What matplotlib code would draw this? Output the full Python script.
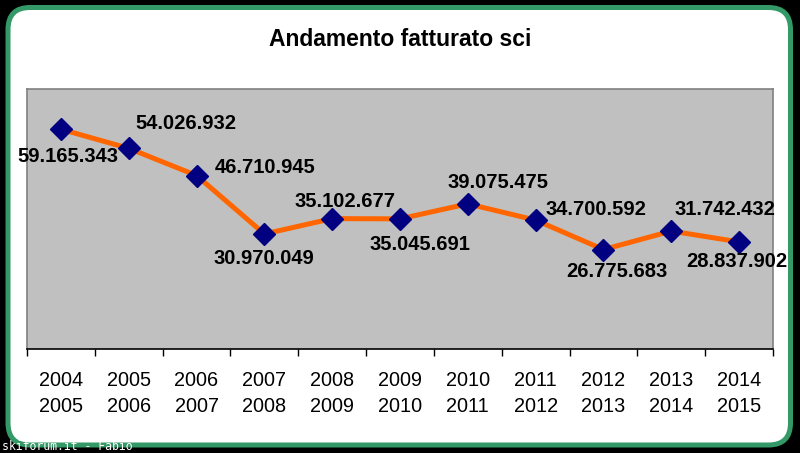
import matplotlib
matplotlib.use("Agg")
import matplotlib.pyplot as plt
from matplotlib.patches import FancyBboxPatch

# stagioni e fatturato (euro)
seasons = ["2004\n2005", "2005\n2006", "2006\n2007", "2007\n2008", "2008\n2009",
           "2009\n2010", "2010\n2011", "2011\n2012", "2012\n2013", "2013\n2014",
           "2014\n2015"]
revenue = [59165343, 54026932, 46710945, 30970049, 35102677, 35045691,
           39075475, 34700592, 26775683, 31742432, 28837902]
value_labels = ["59.165.343", "54.026.932", "46.710.945", "30.970.049", "35.102.677",
                "35.045.691", "39.075.475", "34.700.592", "26.775.683", "31.742.432",
                "28.837.902"]
# label offsets in pixels (dx, dy), dy positive = up
label_offsets = [(7, -27), (57, 25), (69, 8), (0, -25), (13, 17), (20, -26),
                 (30, 21), (60, 11), (13, -22), (54, 22), (-2, -20)]

plt.rcParams['font.family'] = ['Liberation Sans', 'DejaVu Sans']

fig = plt.figure(figsize=(8, 4.53), dpi=100, facecolor="black")

# rounded frame
bg = fig.add_axes([0, 0, 1, 1])
bg.set_xlim(0, 800)
bg.set_ylim(453, 0)
bg.axis("off")
frame = FancyBboxPatch((8 + 22, 7.5 + 22), 782.5 - 44, 437.5 - 44,
                       boxstyle="round,pad=22,rounding_size=22",
                       facecolor="white", edgecolor="#339966", linewidth=3.6)
bg.add_patch(frame)

ax = fig.add_axes([27 / 800, 1 - 349 / 453, 746 / 800, 260 / 453])
ax.set_facecolor("#C0C0C0")
x = list(range(len(seasons)))
ax.plot(x, revenue, color="#FF6600", linewidth=3.6, zorder=2)
ax.plot(x, revenue, linestyle="none", marker="D", markersize=11.5,
        markerfacecolor="#000080", markeredgecolor="#000080", zorder=3)

for i, (val, lab) in enumerate(zip(revenue, value_labels)):
    dx, dy = label_offsets[i]
    ax.annotate(lab, (i, val), xytext=(dx, dy), textcoords="offset pixels",
                ha="center", va="center", fontsize=14.5, fontweight="bold",
                color="black", zorder=4, annotation_clip=False)

ax.set_xlim(-0.5, len(seasons) - 0.5)
ax.set_ylim(0, 70000000)
ax.set_yticks([])
ax.set_xticks([i - 0.5 for i in range(len(seasons) + 1)])
ax.set_xticklabels([])
ax.set_xticks(x, minor=True)
ax.set_xticklabels(seasons, minor=True, fontsize=14.3)
for t in ax.get_xticklabels(minor=True):
    t.set_linespacing(1.45)
ax.tick_params(axis="x", which="major", length=5, width=1, color="black", direction="out")
ax.tick_params(axis="x", which="minor", length=0, pad=16)
for side in ["left", "top", "right"]:
    ax.spines[side].set_color("#808080")
    ax.spines[side].set_linewidth(1.2)
ax.spines["bottom"].set_color("black")
ax.spines["bottom"].set_linewidth(1.2)

fig.text(400 / 800, 1 - 39 / 453, "Andamento fatturato sci", ha="center", va="center",
         fontsize=16.5, fontweight="bold")

fig.text(2 / 800, 1 - 446 / 453, "skiforum.it - Fabio", ha="left", va="center",
         fontsize=8.3, family="DejaVu Sans Mono", color="white")

plt.savefig("out.png", dpi=100, facecolor=fig.get_facecolor())
